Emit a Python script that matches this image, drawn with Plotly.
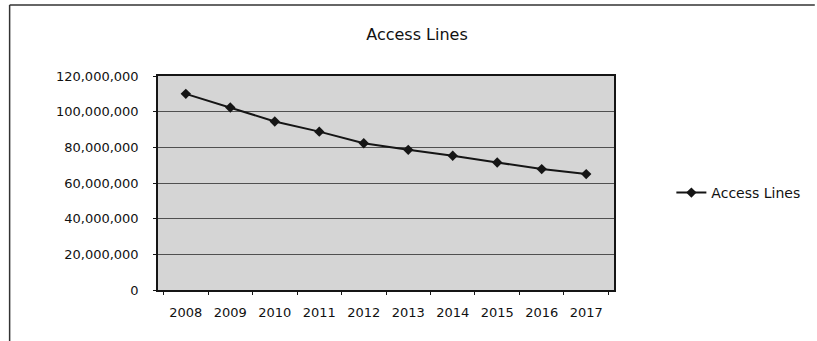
import plotly.graph_objects as go

years = ["2008", "2009", "2010", "2011", "2012", "2013", "2014", "2015", "2016", "2017"]
access_lines = [110000000, 102300000, 94500000, 88800000, 82300000, 78600000,
                75300000, 71500000, 67800000, 65000000]
series_name = "Access Lines"
title_text = "Access Lines"

W, H = 817, 341
L, R, T, B = 158, 619, 76, 290

def px_x(px):
    return (px - L) / (R - L)

def px_y(py):
    return (B - py) / (B - T)

fig = go.Figure()
fig.add_trace(go.Scatter(
    x=years, y=access_lines, name=series_name, mode="lines+markers",
    line=dict(color="#151515", width=2),
    marker=dict(symbol="diamond", size=8, color="#151515"),
))

font_family = "DejaVu Sans, sans-serif"
txt = "#111111"

fig.update_layout(
    width=W, height=H,
    margin=dict(l=L, r=W - R, t=T, b=H - B, pad=0),
    paper_bgcolor="white",
    plot_bgcolor="#d5d5d5",
    font=dict(family=font_family, size=13, color=txt),
    title=dict(text=title_text, x=417 / W, xanchor="center",
               y=1 - 34 / H, yanchor="middle",
               font=dict(size=16, family=font_family, color=txt)),
    showlegend=True,
    legend=dict(x=px_x(677), xanchor="left", y=px_y(193), yanchor="middle",
                bgcolor="rgba(0,0,0,0)", font=dict(size=14, family=font_family, color=txt),
                itemwidth=30),
    xaxis=dict(type="category", showgrid=False, showline=True, linecolor="#151515",
               linewidth=1.5, mirror=True, ticks="outside", tickson="boundaries",
               ticklen=3, tickcolor="#151515", tickfont=dict(size=13),
               ticklabelstandoff=10, zeroline=False),
    yaxis=dict(range=[0, 120000000], dtick=20000000, tickformat=",d",
               showgrid=True, gridcolor="#505050", gridwidth=1,
               showline=True, linecolor="#151515", linewidth=1.5, mirror=True,
               ticks="outside", ticklen=3, tickcolor="#151515",
               tickfont=dict(size=13), ticklabelstandoff=12, zeroline=False),
    shapes=[
        dict(type="line", xref="paper", yref="paper",
             x0=px_x(8), x1=px_x(W + 5), y0=px_y(5), y1=px_y(5),
             line=dict(color="#333333", width=1.5)),
        dict(type="line", xref="paper", yref="paper",
             x0=px_x(8), x1=px_x(8), y0=px_y(5), y1=px_y(H + 5),
             line=dict(color="#333333", width=1.5)),
    ],
)

fig.write_html("out.html")
